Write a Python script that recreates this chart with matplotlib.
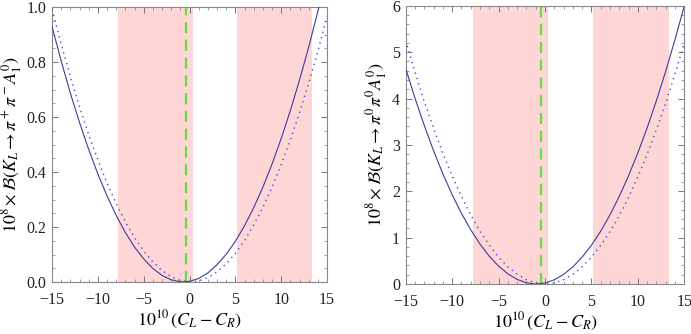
import numpy as np
import matplotlib
matplotlib.use("Agg")
import matplotlib.pyplot as plt
from matplotlib.ticker import MultipleLocator, FormatStrFormatter

plt.rcParams["font.family"] = ["Liberation Serif", "DejaVu Serif"]
plt.rcParams["mathtext.fontset"] = "stix"

# values
x_vals = list(range(-15, 16))

# K_L -> pi+ pi- A
charged_solid = [0.929, 0.804, 0.687, 0.580, 0.482, 0.393, 0.313, 0.242, 0.180, 0.127,
                 0.084, 0.049, 0.024, 0.008, 0.0004, 0.0023, 0.013, 0.033, 0.063, 0.101,
                 0.148, 0.205, 0.270, 0.345, 0.429, 0.522, 0.624, 0.735, 0.855, 0.985, 1.123]
charged_dotted = [0.992, 0.865, 0.747, 0.637, 0.536, 0.444, 0.360, 0.285, 0.219, 0.162,
                  0.113, 0.073, 0.042, 0.019, 0.005, 0.000, 0.004, 0.016, 0.037, 0.066,
                  0.104, 0.151, 0.207, 0.271, 0.345, 0.426, 0.517, 0.616, 0.724, 0.840, 0.966]

# K_L -> pi0 pi0 A
neutral_solid = [4.650, 4.011, 3.420, 2.875, 2.378, 1.928, 1.525, 1.170, 0.861, 0.600,
                 0.386, 0.219, 0.099, 0.026, 0.000, 0.021, 0.090, 0.206, 0.369, 0.579,
                 0.836, 1.140, 1.492, 1.890, 2.336, 2.829, 3.369, 3.956, 4.590, 5.272, 6.000]
neutral_dotted = [5.25, 4.57, 3.94, 3.36, 2.82, 2.33, 1.89, 1.49, 1.14, 0.84,
                  0.58, 0.37, 0.21, 0.093, 0.023, 0.0, 0.023, 0.093, 0.209, 0.371,
                  0.578, 0.832, 1.132, 1.478, 1.870, 2.310, 2.795, 3.327, 3.905, 4.530, 5.190]

# excluded bands and the central line
bands = [(-7.8, 0.35), (5.2, 13.35)]
center_line = -0.4

panels = [
    dict(solid=charged_solid, dotted=charged_dotted, ymax=1.0, major=0.2, minor=0.05, fmt="%.1f",
         ylabel=r"$10^8\times\mathcal{B}(K_L\to\pi^+\pi^-A_1^0)$",
         rect=[0.0753, 0.1557, 0.398, 0.823]),
    dict(solid=neutral_solid, dotted=neutral_dotted, ymax=6.0, major=1, minor=0.2, fmt="%d",
         ylabel=r"$10^8\times\mathcal{B}(K_L\to\pi^0\pi^0A_1^0)$",
         rect=[0.5871, 0.1497, 0.4032, 0.833]),
]

fig = plt.figure(figsize=(6.91, 3.34), dpi=100)

for p in panels:
    ax = fig.add_axes(p["rect"])
    for lo, hi in bands:
        ax.axvspan(lo, hi, color="#ffd6d6", lw=0, zorder=0)
    ax.axvline(center_line, color="#66dd44", lw=1.6, dashes=(5, 3), zorder=2)
    ax.plot(x_vals, p["solid"], color="#3c3c9a", lw=0.8, zorder=3)
    ax.plot(x_vals, p["dotted"], color="#4a4ad8", lw=1.0, ls=(0, (1, 3)), zorder=3)

    ax.set_xlim(-15, 15)
    ax.set_ylim(0, p["ymax"])
    ax.xaxis.set_major_locator(MultipleLocator(5))
    ax.xaxis.set_minor_locator(MultipleLocator(1))
    ax.yaxis.set_major_locator(MultipleLocator(p["major"]))
    ax.yaxis.set_minor_locator(MultipleLocator(p["minor"]))
    ax.yaxis.set_major_formatter(FormatStrFormatter(p["fmt"]))
    ax.tick_params(which="both", direction="in", top=True, right=True, color="#777777",
                   labelsize=11.5, labelcolor="#222222")
    ax.tick_params(axis="x", pad=7)
    ax.tick_params(axis="y", pad=4)
    ax.tick_params(which="major", length=4, width=0.7)
    ax.tick_params(which="minor", length=2, width=0.5)
    for s in ax.spines.values():
        s.set_color("#888888")
        s.set_linewidth(0.8)

    ax.set_xlabel(r"$10^{10}\,(C_L - C_R)$", fontsize=13, labelpad=1)
    ax.set_ylabel(p["ylabel"], fontsize=13, labelpad=2)

fig.savefig("out.png", dpi=100)
